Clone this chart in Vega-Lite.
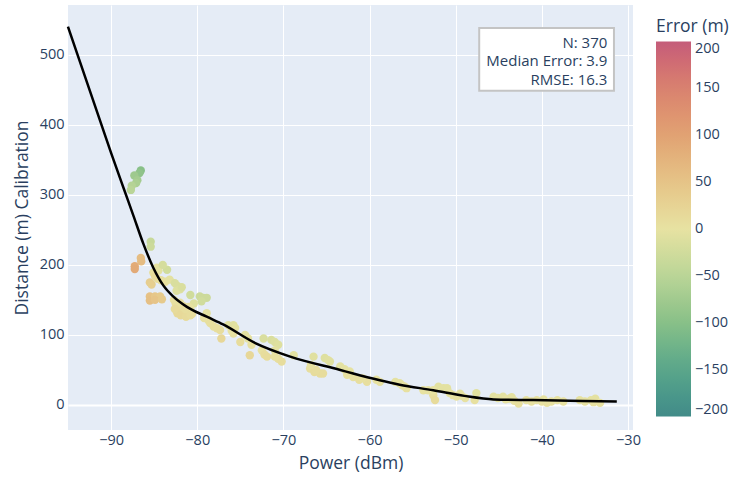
{
  "$schema": "https://vega.github.io/schema/vega-lite/v6.json",
  "width": 565,
  "height": 425,
  "autosize": {"type": "none"},
  "padding": {"left": 68, "top": 5, "right": 107, "bottom": 48},
  "background": "white",
  "config": {
    "font": "Open Sans",
    "view": {"fill": "#E5ECF6", "stroke": null},
    "axis": {
      "domain": false, "ticks": false,
      "gridColor": "white",
      "labelColor": "#2a3f5f", "titleColor": "#2a3f5f",
      "labelFontSize": 14.5, "titleFontSize": 17.5, "titleFontWeight": "normal",
      "labelFont": "Open Sans", "titleFont": "Open Sans"
    }
  },
  "datasets": {
    "pts": [
      {"power": -86.55, "dist": 334.7, "err": -100}, {"power": -86.7, "dist": 331, "err": -92},
      {"power": -87.3, "dist": 327.6, "err": -78}, {"power": -86.95, "dist": 321, "err": -72},
      {"power": -87.1, "dist": 316.7, "err": -65}, {"power": -87.6, "dist": 312.9, "err": -55},
      {"power": -87.7, "dist": 307, "err": -50},
      {"power": -85.4, "dist": 233, "err": -35}, {"power": -85.4, "dist": 226, "err": -30},
      {"power": -86.55, "dist": 210, "err": 60}, {"power": -86.5, "dist": 205, "err": 62},
      {"power": -87.25, "dist": 198, "err": 85}, {"power": -87.25, "dist": 194, "err": 88},
      {"power": -85.5, "dist": 175, "err": 35}, {"power": -85.3, "dist": 172, "err": 32},
      {"power": -85.5, "dist": 155, "err": 55}, {"power": -85.5, "dist": 149, "err": 58},
      {"power": -84.9, "dist": 155, "err": 45}, {"power": -84.3, "dist": 155, "err": 40},
      {"power": -84.9, "dist": 150, "err": 50}, {"power": -84.1, "dist": 151, "err": 40},
      {"power": -85.1, "dist": 189, "err": 5}, {"power": -84.7, "dist": 196, "err": 0},
      {"power": -84.5, "dist": 192, "err": -5}, {"power": -84.6, "dist": 180, "err": 12},
      {"power": -84.9, "dist": 184, "err": 12}, {"power": -84.2, "dist": 178, "err": 5},
      {"power": -83.7, "dist": 176, "err": 5}, {"power": -83.2, "dist": 179, "err": -5},
      {"power": -83.5, "dist": 193, "err": -25}, {"power": -84.0, "dist": 200, "err": -20},
      {"power": -82.6, "dist": 174, "err": -15}, {"power": -82.3, "dist": 170, "err": -15},
      {"power": -82.0, "dist": 165, "err": -10}, {"power": -82.4, "dist": 163, "err": -10},
      {"power": -81.8, "dist": 168, "err": -15},
      {"power": -80.8, "dist": 157, "err": -25}, {"power": -79.7, "dist": 155, "err": -30},
      {"power": -79.3, "dist": 153, "err": -30}, {"power": -78.9, "dist": 153, "err": -30},
      {"power": -79.5, "dist": 148, "err": -25}, {"power": -80.4, "dist": 145, "err": -10},
      {"power": -82.5, "dist": 145, "err": 5}, {"power": -82.2, "dist": 140, "err": 5},
      {"power": -82.0, "dist": 137, "err": 8}, {"power": -81.7, "dist": 135, "err": 8},
      {"power": -81.5, "dist": 132, "err": 10}, {"power": -81.2, "dist": 130, "err": 10},
      {"power": -81.0, "dist": 134, "err": 8}, {"power": -80.8, "dist": 128, "err": 10},
      {"power": -81.6, "dist": 141, "err": 5}, {"power": -82.3, "dist": 131, "err": 15},
      {"power": -81.9, "dist": 128, "err": 15}, {"power": -81.3, "dist": 126, "err": 12},
      {"power": -80.6, "dist": 130, "err": 8}, {"power": -82.7, "dist": 150, "err": 3},
      {"power": -81.0, "dist": 140, "err": 2}, {"power": -80.8, "dist": 137, "err": 2},
      {"power": -80.8, "dist": 128.6, "err": 8}, {"power": -82.0, "dist": 146, "err": 4},
      {"power": -81.4, "dist": 137, "err": 6}, {"power": -82.6, "dist": 137, "err": 12},
      {"power": -78.9, "dist": 131, "err": -5}, {"power": -78.7, "dist": 121, "err": 3},
      {"power": -78.5, "dist": 117, "err": 5}, {"power": -78.1, "dist": 112, "err": 6},
      {"power": -77.7, "dist": 109.5, "err": 6}, {"power": -77.2, "dist": 95, "err": 18},
      {"power": -77.35, "dist": 107, "err": 8}, {"power": -79.2, "dist": 124, "err": 4},
      {"power": -76.4, "dist": 114, "err": -6}, {"power": -75.8, "dist": 114, "err": -8},
      {"power": -75.6, "dist": 110, "err": -6}, {"power": -75.8, "dist": 102, "err": 2},
      {"power": -75.0, "dist": 90, "err": 10}, {"power": -74.45, "dist": 100, "err": -4},
      {"power": -74.1, "dist": 95, "err": -2}, {"power": -73.7, "dist": 86, "err": 4},
      {"power": -73.9, "dist": 71, "err": 18}, {"power": -76.0, "dist": 106, "err": 0},
      {"power": -72.3, "dist": 95, "err": -15}, {"power": -71.4, "dist": 93, "err": -15},
      {"power": -71.0, "dist": 90, "err": -12}, {"power": -70.6, "dist": 86, "err": -10},
      {"power": -72.5, "dist": 78, "err": 2}, {"power": -72.2, "dist": 72, "err": 8},
      {"power": -71.9, "dist": 69, "err": 10}, {"power": -71.0, "dist": 78, "err": -4},
      {"power": -70.6, "dist": 66, "err": 6}, {"power": -70.2, "dist": 62, "err": 8},
      {"power": -71.0, "dist": 69, "err": 4},
      {"power": -68.8, "dist": 71, "err": -5}, {"power": -66.5, "dist": 69, "err": -8},
      {"power": -65.2, "dist": 67, "err": -10}, {"power": -64.6, "dist": 62, "err": -8},
      {"power": -64.8, "dist": 64, "err": -8},
      {"power": -66.9, "dist": 52, "err": 6}, {"power": -66.4, "dist": 47, "err": 10},
      {"power": -65.75, "dist": 45, "err": 10}, {"power": -65.4, "dist": 45, "err": 10},
      {"power": -66.2, "dist": 50, "err": 8}, {"power": -66.8, "dist": 57, "err": 4},
      {"power": -63.4, "dist": 55, "err": -5}, {"power": -62.9, "dist": 51, "err": -3},
      {"power": -62.3, "dist": 48, "err": -2},
      {"power": -62.6, "dist": 43, "err": 3}, {"power": -61.9, "dist": 40, "err": 5},
      {"power": -61.2, "dist": 36, "err": 6}, {"power": -60.3, "dist": 33, "err": 6},
      {"power": -60.8, "dist": 38, "err": 3},
      {"power": -59.2, "dist": 36, "err": 0}, {"power": -58.8, "dist": 33, "err": 2},
      {"power": -57.0, "dist": 33, "err": -3}, {"power": -56.5, "dist": 31, "err": -2},
      {"power": -56.2, "dist": 28, "err": 0}, {"power": -55.7, "dist": 24, "err": 3},
      {"power": -55.9, "dist": 26, "err": 2},
      {"power": -53.75, "dist": 21, "err": 0}, {"power": -53.2, "dist": 21, "err": 0},
      {"power": -52.6, "dist": 14, "err": 6}, {"power": -52.4, "dist": 7, "err": 12},
      {"power": -52.0, "dist": 26, "err": -6}, {"power": -51.4, "dist": 24, "err": -4},
      {"power": -51.0, "dist": 24, "err": -4}, {"power": -52.6, "dist": 21, "err": 0},
      {"power": -50.7, "dist": 17, "err": -2}, {"power": -50.3, "dist": 14, "err": 0},
      {"power": -49.9, "dist": 12, "err": 2}, {"power": -49.5, "dist": 16, "err": -2},
      {"power": -48.9, "dist": 10, "err": 2}, {"power": -49.3, "dist": 13, "err": 0},
      {"power": -47.6, "dist": 17, "err": -8}, {"power": -47.8, "dist": 7, "err": 4},
      {"power": -45.6, "dist": 12, "err": -4}, {"power": -45.1, "dist": 10, "err": -2},
      {"power": -44.5, "dist": 12, "err": -4}, {"power": -43.8, "dist": 9, "err": -2},
      {"power": -43.2, "dist": 6, "err": 1}, {"power": -42.7, "dist": 2, "err": 5},
      {"power": -44.2, "dist": 8, "err": 0}, {"power": -43.5, "dist": 11, "err": -3},
      {"power": -41.8, "dist": 7, "err": 0}, {"power": -41.2, "dist": 5, "err": 2},
      {"power": -40.6, "dist": 7, "err": 0}, {"power": -40.0, "dist": 5, "err": 2},
      {"power": -39.4, "dist": 3, "err": 4}, {"power": -38.9, "dist": 5, "err": 2},
      {"power": -38.2, "dist": 7, "err": 0}, {"power": -37.5, "dist": 5, "err": 2},
      {"power": -39.8, "dist": 8, "err": -1},
      {"power": -35.6, "dist": 7, "err": -1}, {"power": -35.0, "dist": 5, "err": 0},
      {"power": -34.3, "dist": 7, "err": -2}, {"power": -33.8, "dist": 9, "err": -3},
      {"power": -33.25, "dist": 3, "err": 2}, {"power": -34.0, "dist": 4, "err": 1}
    ],
    "curve": [
      {"power": -95, "dist": 540}, {"power": -90, "dist": 360}, {"power": -88.5, "dist": 308},
      {"power": -87.4, "dist": 270}, {"power": -86.25, "dist": 230}, {"power": -85.1, "dist": 196},
      {"power": -83.9, "dist": 170}, {"power": -82.8, "dist": 155}, {"power": -81.2, "dist": 140},
      {"power": -78.9, "dist": 126}, {"power": -77, "dist": 115}, {"power": -73.2, "dist": 88},
      {"power": -69.2, "dist": 69}, {"power": -63.4, "dist": 50}, {"power": -61.9, "dist": 45},
      {"power": -56.5, "dist": 29}, {"power": -52.6, "dist": 21}, {"power": -49, "dist": 13},
      {"power": -45.6, "dist": 8}, {"power": -41, "dist": 7}, {"power": -31.3, "dist": 5}
    ],
    "note": [{"txt": "N: 370\nMedian Error: 3.9\nRMSE: 16.3"}]
  },
  "layer": [
    {
      "data": {"name": "pts"},
      "mark": {"type": "circle", "size": 70, "opacity": 1},
      "encoding": {
        "x": {"field": "power", "type": "quantitative", "title": "Power (dBm)",
              "scale": {"domain": [-95, -29.42], "nice": false, "zero": false},
              "axis": {"values": [-90, -80, -70, -60, -50, -40, -30], "labelPadding": 3, "titlePadding": 8}},
        "y": {"field": "dist", "type": "quantitative", "title": "Distance (m) Calibration",
              "scale": {"domain": [-35.7, 571], "nice": false, "zero": false},
              "axis": {"values": [0, 100, 200, 300, 400, 500], "labelPadding": 4, "titlePadding": 8,
                       "gridWidth": {"condition": {"test": "datum.value === 0", "value": 2}, "value": 1}}},
        "color": {"field": "err", "type": "quantitative", "title": "Error (m)",
                  "scale": {"domain": [-200, -150, -100, -50, 0, 50, 100, 150, 200],
                            "range": ["#428b88", "#5aa68a", "#88c088", "#bad598", "#e7e2a2", "#e6c488", "#e1a273", "#d9826f", "#c45c7a"],
                            "clamp": true},
                  "legend": {"orient": "none", "legendX": 588, "legendY": 13, "direction": "vertical",
                             "gradientLength": 375, "gradientThickness": 35, "gradientStrokeWidth": 0,
                             "values": [-200, -150, -100, -50, 0, 50, 100, 150, 200],
                             "labelFontSize": 14.5, "labelColor": "#2a3f5f", "labelOffset": 4, "labelOverlap": false,
                             "labelBaseline": "middle",
                             "titleFontSize": 17.5, "titleFontWeight": "normal", "titleColor": "#2a3f5f", "titlePadding": 6}}
      }
    },
    {
      "data": {"name": "curve"},
      "mark": {"type": "line", "color": "black", "strokeWidth": 2.5, "interpolate": "monotone"},
      "encoding": {
        "x": {"field": "power", "type": "quantitative", "title": "Power (dBm)"},
        "y": {"field": "dist", "type": "quantitative", "title": "Distance (m) Calibration"}
      }
    },
    {
      "data": {"name": "note"},
      "mark": {"type": "rect", "fill": "white", "stroke": "#c4c4c4", "strokeWidth": 2},
      "encoding": {
        "x": {"datum": -47.27, "type": "quantitative"},
        "x2": {"datum": -31.63},
        "y": {"datum": 538.1, "type": "quantitative"},
        "y2": {"datum": 448.6}
      }
    },
    {
      "data": {"name": "note"},
      "mark": {"type": "text", "align": "right", "baseline": "middle", "lineBreak": "\n", "lineHeight": 18.4,
               "fontSize": 15, "color": "#2a3f5f", "font": "Open Sans"},
      "encoding": {
        "x": {"datum": -32.4, "type": "quantitative"},
        "y": {"datum": 516.7, "type": "quantitative"},
        "text": {"field": "txt"}
      }
    }
  ]
}
